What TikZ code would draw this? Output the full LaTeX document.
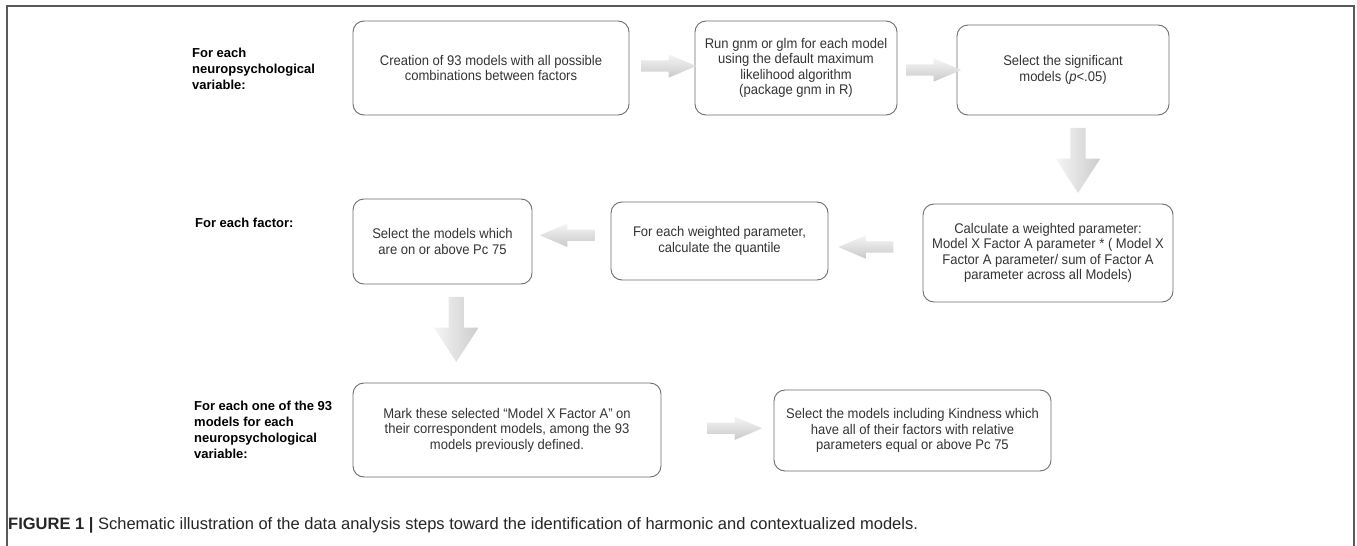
\documentclass[tikz,border=0pt]{standalone}
\usepackage{fontspec}
\setmainfont{Liberation Sans}
\newfontfamily\boxfont{Liberation Sans}[FakeStretch=0.93]
\usetikzlibrary{shapes.arrows}

\begin{document}
\begin{tikzpicture}[x=1pt,y=-1pt,
    box/.style={draw=gray!85!black, line width=0.9pt, rounded corners=11pt, inner sep=0pt,
        align=center, text=black!80, font=\boxfont\fontsize{14}{15.5}\selectfont},
    lbl/.style={anchor=west, align=left, inner sep=0pt, font=\fontsize{13}{16}\selectfont\bfseries},
    harrow/.style={single arrow, draw=none, top color=gray!8, bottom color=gray!42,
        inner sep=5.5pt, minimum height=55pt, single arrow head extend=6pt,
        single arrow tip angle=46},
    varrow/.style={single arrow, draw=none, left color=gray!8, right color=gray!40,
        inner sep=7.5pt, minimum height=65pt, single arrow head extend=14.5pt,
        single arrow tip angle=66, shape border rotate=270}]

    \useasboundingbox (0,0) rectangle (1357,546);
    \draw[black!65, line width=1.6pt] (7,546) -- (7,6) -- (1354,6) -- (1354,546);

    \node[lbl] (l_var) at (192,69) {For each\\neuropsychological\\variable:};
    \node[lbl] (l_fac) at (195,223) {For each factor:};
    \node[lbl] (l_mod) at (194,430) {For each one of the 93\\models for each\\neuropsychological\\variable:};

    \node[box, minimum width=276pt, minimum height=94pt] (b_create) at (491,68)
        {Creation of 93 models with all possible\\combinations between factors};
    \node[box, minimum width=202pt, minimum height=94pt] (b_run) at (796,68)
        {Run gnm or glm for each model\\using the default maximum\\likelihood algorithm\\(package gnm in R)};
    \node[box, minimum width=212pt, minimum height=90pt] (b_sig) at (1063,70)
        {Select the significant\\models (\textit{p}<.05)};
    \node[box, minimum width=250pt, minimum height=98pt] (b_weight) at (1048,253)
        {Calculate a weighted parameter:\\Model X Factor A parameter * ( Model X\\Factor A parameter/ sum of Factor A\\parameter across all Models)};
    \node[box, minimum width=217pt, minimum height=78pt] (b_quant) at (719.5,241)
        {For each weighted parameter,\\calculate the quantile};
    \node[box, minimum width=179pt, minimum height=85pt] (b_pc) at (442.5,241.5)
        {Select the models which\\are on or above Pc 75};
    \node[box, minimum width=308pt, minimum height=94pt] (b_mark) at (507,430)
        {Mark these selected “Model X Factor A” on\\their correspondent models, among the 93\\models previously defined.};
    \node[box, minimum width=277pt, minimum height=81pt] (b_kind) at (912.5,430.5)
        {Select the models including Kindness which\\have all of their factors with relative\\parameters equal or above Pc 75};

    \path (b_create.east) -- (b_run.west) node[midway, harrow, yshift=2pt] (a_1) {};
    \path (b_run.east) -- (b_sig.west) node[midway, harrow, yshift=-1pt] (a_2) {};
    \path (b_sig.south) -- (b_weight.north) node[midway, varrow, xshift=22.5pt, yshift=5pt] (a_3) {};
    \path (b_weight.west) -- (b_quant.east) node[midway, harrow, shape border rotate=180, xshift=-3pt] (a_4) {};
    \path (b_quant.west) -- (b_pc.east) node[midway, harrow, shape border rotate=180, xshift=2.5pt, yshift=6pt] (a_5) {};
    \path (b_pc.south) -- (b_mark.north) node[midway, varrow, xshift=-18.5pt, yshift=10pt] (a_6) {};
    \path (b_mark.east) -- (b_kind.west) node[midway, harrow, xshift=10.5pt, yshift=2pt] (a_7) {};

    \node[anchor=west, inner sep=0pt, text=black!85, font=\fontsize{16.5}{18}\selectfont] (cap) at (8,525)
        {\textbf{FIGURE 1 |} Schematic illustration of the data analysis steps toward the identification of harmonic and contextualized models.};

\end{tikzpicture}
\end{document}
